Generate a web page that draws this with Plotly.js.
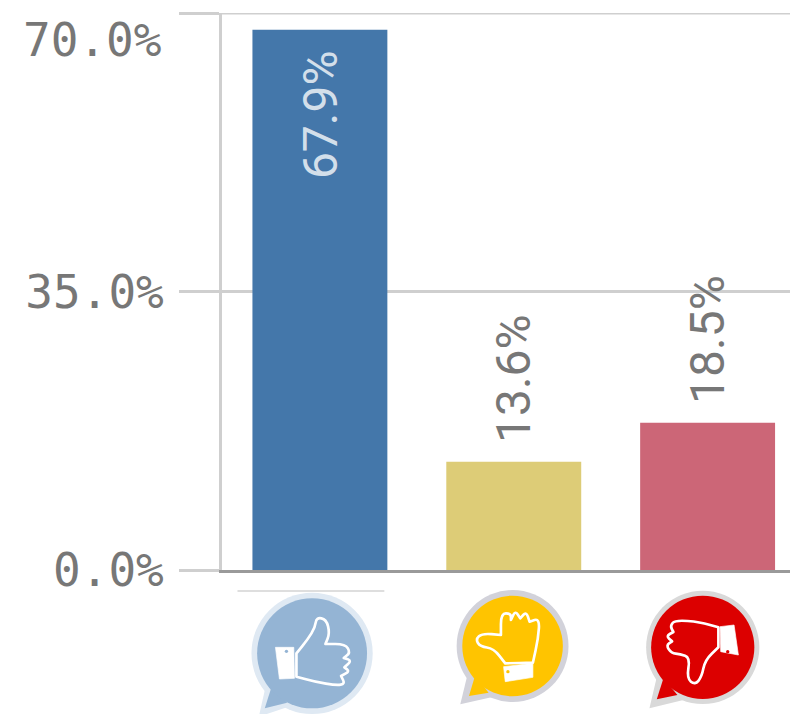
<!DOCTYPE html>
<html>
<head>
<meta charset="utf-8">
<script src="https://cdn.plot.ly/plotly-3.0.1.min.js"></script>
<style>html,body{margin:0;padding:0;background:#fff;overflow:hidden}#chart{width:790px;height:714px}</style>
</head>
<body>
<div id="chart"></div>
<script>
const categories = ['Positive', 'Neutral', 'Negative'];
const values = [67.9, 13.6, 18.5];
const valueLabels = ['67.9%', '13.6%', '18.5%'];
const barColors = ['#4477aa', '#ddcc77', '#cc6677'];
const labelColors = ['#d3dfea', '#777777', '#777777'];
const tickValues = [0, 35];
const tickLabels = ['0.0%', '35.0%'];
const topTickValue = 70;
const topTickLabel = '70.0%';

const W = 790, H = 714, L = 221.5, T = 13, B = 144;
const plotW = W - L, plotH = H - T - B;
const px = x => (x - L) / plotW;
const py = y => (H - B - y) / plotH;
const tickFont = { family: '"DejaVu Sans Mono", monospace', size: 46, color: '#777777' };

function smooth(pts) {
  let d = '';
  const n = pts.length;
  for (let i = 0; i < n; i++) {
    const p = pts[i], q = pts[(i + 1) % n];
    const m = [(p[0] + q[0]) / 2, (p[1] + q[1]) / 2];
    if (i === 0) {
      const z = pts[n - 1];
      d += `M${(z[0] + p[0]) / 2} ${(z[1] + p[1]) / 2}`;
    }
    d += `Q${p[0]} ${p[1]} ${m[0]} ${m[1]}`;
  }
  return d + 'Z';
}
function poly(pts) { return 'M' + pts.map(p => p.join(' ')).join('L') + 'Z'; }

function icon(o) {
  const [vx, vy, vw, vh] = o.view;
  const svg = `<svg xmlns="http://www.w3.org/2000/svg" width="${vw * 2}" height="${vh * 2}" viewBox="${vx} ${vy} ${vw} ${vh}">` +
    `<path d="${poly(o.tailOuter)}" fill="${o.halo}"/><circle cx="${o.c[0]}" cy="${o.c[1]}" r="${o.rOut}" fill="${o.halo}"/>` +
    `<path d="${poly(o.tailInner)}" fill="${o.fill}"/><circle cx="${o.c[0]}" cy="${o.c[1]}" r="${o.rIn}" fill="${o.fill}"/>` +
    `<path d="${smooth(o.hand)}" fill="none" stroke="#fff" stroke-width="8" stroke-linejoin="round"/>` +
    `<path d="${poly(o.cuff)}" fill="#fff" stroke="#fff" stroke-width="2"/>` +
    `<circle cx="${o.dot[0]}" cy="${o.dot[1]}" r="5" fill="${o.fill}"/></svg>`;
  return {
    source: 'data:image/svg+xml;charset=utf-8,' + encodeURIComponent(svg),
    xref: 'paper', yref: 'paper', xanchor: 'left', yanchor: 'top', sizing: 'stretch',
    x: px(o.origin[0] + vx / 3), y: py(o.origin[1] + vy / 3),
    sizex: vw / 3 / plotW, sizey: vh / 3 / plotH, layer: 'above'
  };
}

const iconUp = icon({
  origin: [230, 570], view: [40, 50, 420, 382],
  c: [245, 250], rOut: 182, rIn: 165, halo: '#dfe9f3', fill: '#94b4d4',
  tailOuter: [[85, 440], [110, 330], [190, 405]], tailInner: [[103, 415], [125, 345], [170, 398]],
  hand: [[198, 250], [198, 250], [232, 208], [254, 172], [258, 142], [288, 148], [298, 190], [285, 222], [285, 222], [345, 222], [360, 248], [340, 264], [340, 264], [364, 272], [342, 292], [342, 292], [358, 304], [332, 318], [332, 318], [344, 342], [318, 346], [255, 336], [198, 320], [198, 320]],
  cuff: [[135, 232], [190, 232], [192, 325], [147, 327]], dot: [168, 244]
});
const iconMid = icon({
  origin: [230, 570], view: [660, 40, 370, 380],
  c: [847, 228], rOut: 168, rIn: 151, halo: '#d2d2da', fill: '#ffc400',
  tailOuter: [[690, 403], [715, 300], [790, 380]], tailInner: [[716, 378], [735, 315], [775, 368]],
  hand: [[825, 280], [825, 280], [790, 235], [750, 230], [736, 208], [756, 190], [812, 195], [812, 195], [812, 130], [842, 130], [842, 150], [842, 150], [855, 122], [870, 145], [870, 145], [888, 125], [898, 155], [898, 155], [928, 145], [924, 205], [908, 278], [908, 278]],
  cuff: [[820, 290], [908, 280], [908, 322], [825, 335]], dot: [833, 305]
});
const iconDown = icon({
  origin: [590, 570], view: [160, 50, 360, 375],
  c: [338, 232], rOut: 170, rIn: 155, halo: '#d9d9d9', fill: '#dc0000',
  tailOuter: [[178, 415], [205, 300], [280, 390]], tailInner: [[200, 388], [220, 325], [262, 375]],
  hand: [[385, 172], [385, 172], [330, 156], [255, 150], [240, 168], [250, 186], [250, 186], [228, 198], [246, 214], [246, 214], [228, 226], [244, 250], [270, 252], [300, 262], [290, 325], [315, 345], [335, 320], [345, 270], [385, 232], [385, 232]],
  cuff: [[390, 170], [432, 165], [445, 255], [392, 245]], dot: [413, 245]
});

const valueAnnotations = categories.map((c, i) => ({
  x: c, y: values[i], xref: 'x', yref: 'y', text: valueLabels[i], textangle: -90, showarrow: false,
  xanchor: 'center', yanchor: i === 0 ? 'top' : 'bottom', yshift: i === 0 ? -18 : 17,
  font: { family: 'Roboto, sans-serif', size: 48, color: labelColors[i] }
}));

Plotly.newPlot('chart', [{
  type: 'bar',
  x: categories,
  y: values,
  cliponaxis: false,
  marker: { color: barColors },
  hoverinfo: 'skip'
}], {
  width: W, height: H,
  margin: { l: L, r: 0, t: T, b: B, pad: 0 },
  paper_bgcolor: '#fff', plot_bgcolor: '#fff',
  showlegend: false,
  bargap: 0.304,
  xaxis: {
    type: 'category', range: [-0.505, 2.425], showticklabels: false, ticks: '',
    showgrid: false, showline: true, linecolor: '#9a9a9a', linewidth: 3, zeroline: false, fixedrange: true
  },
  yaxis: {
    range: [0, 70], tickmode: 'array', tickvals: [...tickValues, topTickValue], ticktext: [...tickLabels, ''],
    ticks: 'outside', ticklen: 40, tickwidth: 3, tickcolor: '#cfcfcf', ticklabelstandoff: 6,
    tickfont: tickFont,
    showgrid: true, gridcolor: '#cfcfcf', gridwidth: 3, showline: true, linecolor: '#cfcfcf', linewidth: 3,
    zeroline: false, fixedrange: true
  },
  annotations: [...valueAnnotations, {
    xref: 'paper', yref: 'y', x: px(162), y: topTickValue, yshift: -27, text: topTickLabel,
    xanchor: 'right', yanchor: 'middle', showarrow: false, font: tickFont
  }],
  shapes: [{
    type: 'line', xref: 'paper', yref: 'y', x0: 0, x1: 1, y0: topTickValue, y1: topTickValue,
    line: { color: '#cfcfcf', width: 3 }, layer: 'below'
  }, {
    type: 'line', xref: 'paper', yref: 'paper', x0: px(237), x1: px(384), y0: py(591), y1: py(591),
    line: { color: '#bdbdbd', width: 1 }
  }],
  images: [iconUp, iconMid, iconDown]
}, { displayModeBar: false, staticPlot: true });
</script>
</body>
</html>
